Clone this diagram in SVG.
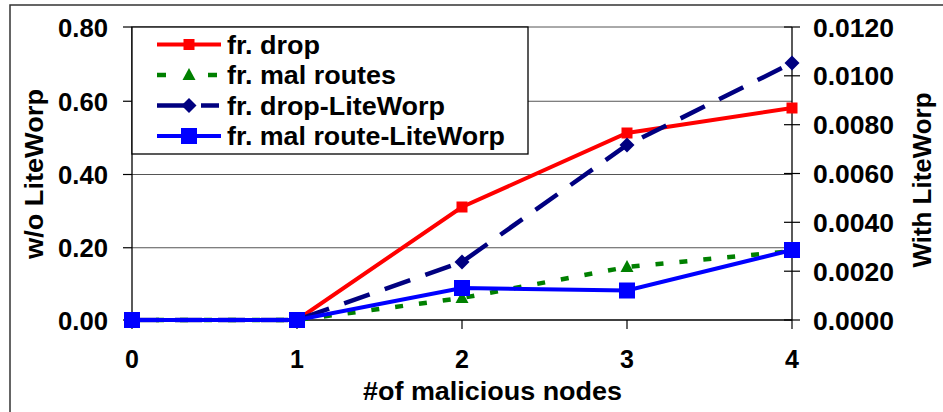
<svg xmlns="http://www.w3.org/2000/svg" width="943" height="412" viewBox="0 0 943 412">
  <style>
    text { font-family: "Liberation Sans", Arial, sans-serif; font-weight: bold; font-size: 25px; fill: #000; }
    .frame { stroke: #333; stroke-width: 1.5; fill: none; }
    .grid { stroke: #555; stroke-width: 1; }
    .axis { stroke: #000; stroke-width: 1.3; fill: none; }
    .tick { stroke: #000; stroke-width: 1.2; }
    .red { stroke: #ff0000; stroke-width: 4; fill: none; }
    .green { stroke: #008000; stroke-width: 4.5; fill: none; stroke-dasharray: 8 16; }
    .navy { stroke: #000080; stroke-width: 4.5; fill: none; stroke-dasharray: 27 16; }
    .blue { stroke: #0000ff; stroke-width: 4; fill: none; }
    .mred { fill: #ff0000; }
    .mgreen { fill: #008000; }
    .mnavy { fill: #000080; }
    .mblue { fill: #0000ff; }
  </style>
  <defs>
    <rect id="sqRed" x="-5.5" y="-5.5" width="11" height="11"/>
    <polygon id="tri" points="0,-7 6.5,5 -6.5,5"/>
    <polygon id="dia" points="0,-7.5 7.5,0 0,7.5 -7.5,0"/>
    <rect id="sqBlue" x="-8" y="-8" width="16" height="16"/>
  </defs>

  <rect width="943" height="412" fill="#fff"/>
  <!-- chart frame (top and left edges) -->
  <polyline class="frame" points="10,412 10,5 943,5"/>

  <!-- plot area: gridlines and axes -->
  <g id="plot-area">
    <line class="grid" x1="132" y1="27" x2="792" y2="27" stroke="#000"/>
    <line class="grid" x1="132" y1="101.25" x2="792" y2="101.25"/>
    <line class="grid" x1="132" y1="174.5" x2="792" y2="174.5"/>
    <line class="grid" x1="132" y1="247.75" x2="792" y2="247.75"/>
    <line class="axis" x1="132" y1="27" x2="132" y2="320"/>
    <line class="axis" x1="792" y1="27" x2="792" y2="320"/>
    <line class="axis" x1="132" y1="320" x2="792" y2="320"/>
    <!-- left axis ticks -->
    <g class="tick">
      <line x1="123" y1="27" x2="132" y2="27"/>
      <line x1="123" y1="101.25" x2="132" y2="101.25"/>
      <line x1="123" y1="174.5" x2="132" y2="174.5"/>
      <line x1="123" y1="247.75" x2="132" y2="247.75"/>
      <line x1="123" y1="320" x2="132" y2="320"/>
    </g>
    <!-- right axis ticks -->
    <g class="tick">
      <line x1="784" y1="27" x2="800" y2="27"/>
      <line x1="784" y1="75.8" x2="800" y2="75.8"/>
      <line x1="784" y1="124.7" x2="800" y2="124.7"/>
      <line x1="784" y1="173.5" x2="800" y2="173.5"/>
      <line x1="784" y1="222.3" x2="800" y2="222.3"/>
      <line x1="784" y1="271.2" x2="800" y2="271.2"/>
      <line x1="784" y1="320" x2="800" y2="320"/>
    </g>
    <!-- x axis ticks -->
    <g class="tick">
      <line x1="132" y1="320" x2="132" y2="329"/>
      <line x1="297" y1="320" x2="297" y2="329"/>
      <line x1="462" y1="320" x2="462" y2="329"/>
      <line x1="627" y1="320" x2="627" y2="329"/>
      <line x1="792" y1="320" x2="792" y2="329"/>
    </g>
  </g>

  <!-- axis labels -->
  <g id="left-axis-labels" text-anchor="end">
    <text x="108" y="36.5" textLength="50" lengthAdjust="spacingAndGlyphs">0.80</text>
    <text x="108" y="110.5" textLength="50" lengthAdjust="spacingAndGlyphs">0.60</text>
    <text x="108" y="184" textLength="50" lengthAdjust="spacingAndGlyphs">0.40</text>
    <text x="108" y="257" textLength="50" lengthAdjust="spacingAndGlyphs">0.20</text>
    <text x="108" y="329.5" textLength="50" lengthAdjust="spacingAndGlyphs">0.00</text>
  </g>
  <g id="right-axis-labels">
    <text x="813" y="36.5" textLength="81" lengthAdjust="spacingAndGlyphs">0.0120</text>
    <text x="813" y="85.3" textLength="81" lengthAdjust="spacingAndGlyphs">0.0100</text>
    <text x="813" y="134.2" textLength="81" lengthAdjust="spacingAndGlyphs">0.0080</text>
    <text x="813" y="183" textLength="81" lengthAdjust="spacingAndGlyphs">0.0060</text>
    <text x="813" y="231.8" textLength="81" lengthAdjust="spacingAndGlyphs">0.0040</text>
    <text x="813" y="280.7" textLength="81" lengthAdjust="spacingAndGlyphs">0.0020</text>
    <text x="813" y="329.5" textLength="81" lengthAdjust="spacingAndGlyphs">0.0000</text>
  </g>
  <g id="x-axis-labels" text-anchor="middle">
    <text x="132" y="368">0</text>
    <text x="297" y="368">1</text>
    <text x="462" y="368">2</text>
    <text x="627" y="368">3</text>
    <text x="792" y="368">4</text>
  </g>
  <text id="x-title" x="363" y="400" textLength="259" lengthAdjust="spacingAndGlyphs">#of malicious nodes</text>
  <text id="y-title-left" transform="translate(43,174) rotate(-90)" text-anchor="middle" textLength="170" lengthAdjust="spacingAndGlyphs">w/o LiteWorp</text>
  <text id="y-title-right" transform="translate(931,180) rotate(-90)" text-anchor="middle" textLength="175" lengthAdjust="spacingAndGlyphs">With LiteWorp</text>

  <!-- data series -->
  <g id="series">
    <g id="fr-drop">
      <polyline class="red" points="132,320 297,320 462,207 627,133 792,108"/>
      <use href="#sqRed" class="mred" x="132" y="320"/>
      <use href="#sqRed" class="mred" x="297" y="320"/>
      <use href="#sqRed" class="mred" x="462" y="207"/>
      <use href="#sqRed" class="mred" x="627" y="133"/>
      <use href="#sqRed" class="mred" x="792" y="108"/>
    </g>
    <g id="fr-mal-routes">
      <polyline class="green" points="132,320 297,320 462,298 627,267 792,251"/>
      <use href="#tri" class="mgreen" x="132" y="320"/>
      <use href="#tri" class="mgreen" x="297" y="320"/>
      <use href="#tri" class="mgreen" x="462" y="298"/>
      <use href="#tri" class="mgreen" x="627" y="267"/>
      <use href="#tri" class="mgreen" x="792" y="251"/>
    </g>
    <g id="fr-drop-liteworp">
      <polyline class="navy" points="132,320 297,320 462,262 627,145 792,63"/>
      <use href="#dia" class="mnavy" x="132" y="320"/>
      <use href="#dia" class="mnavy" x="297" y="320"/>
      <use href="#dia" class="mnavy" x="462" y="262"/>
      <use href="#dia" class="mnavy" x="627" y="145"/>
      <use href="#dia" class="mnavy" x="792" y="63"/>
    </g>
    <g id="fr-mal-route-liteworp">
      <polyline class="blue" points="132,320 297,320 462,288 627,290.5 792,250"/>
      <use href="#sqBlue" class="mblue" x="132" y="320"/>
      <use href="#sqBlue" class="mblue" x="297" y="320"/>
      <use href="#sqBlue" class="mblue" x="462" y="288"/>
      <use href="#sqBlue" class="mblue" x="627" y="290.5"/>
      <use href="#sqBlue" class="mblue" x="792" y="250"/>
    </g>
  </g>

  <!-- legend -->
  <g id="legend">
    <rect x="132" y="27" width="396" height="127" fill="#fff" stroke="#000" stroke-width="1.3"/>
    <line class="red" x1="157" y1="44.5" x2="221" y2="44.5"/>
    <use href="#sqRed" class="mred" x="189" y="44.5"/>
    <text x="227" y="53.5" textLength="93" lengthAdjust="spacingAndGlyphs">fr. drop</text>

    <line class="green" x1="157" y1="75" x2="217" y2="75" style="stroke-dasharray: 9 42"/>
    <use href="#tri" class="mgreen" x="189" y="75"/>
    <text x="227" y="84" textLength="169" lengthAdjust="spacingAndGlyphs">fr. mal routes</text>

    <line class="navy" x1="157" y1="105.5" x2="219" y2="105.5" style="stroke-dasharray: 28 16"/>
    <use href="#dia" class="mnavy" x="189" y="105.5"/>
    <text x="227" y="114.5" textLength="218" lengthAdjust="spacingAndGlyphs">fr. drop-LiteWorp</text>

    <line class="blue" x1="157" y1="136" x2="221" y2="136"/>
    <use href="#sqBlue" class="mblue" x="189" y="136"/>
    <text x="227" y="145" textLength="278" lengthAdjust="spacingAndGlyphs">fr. mal route-LiteWorp</text>
  </g>
</svg>
